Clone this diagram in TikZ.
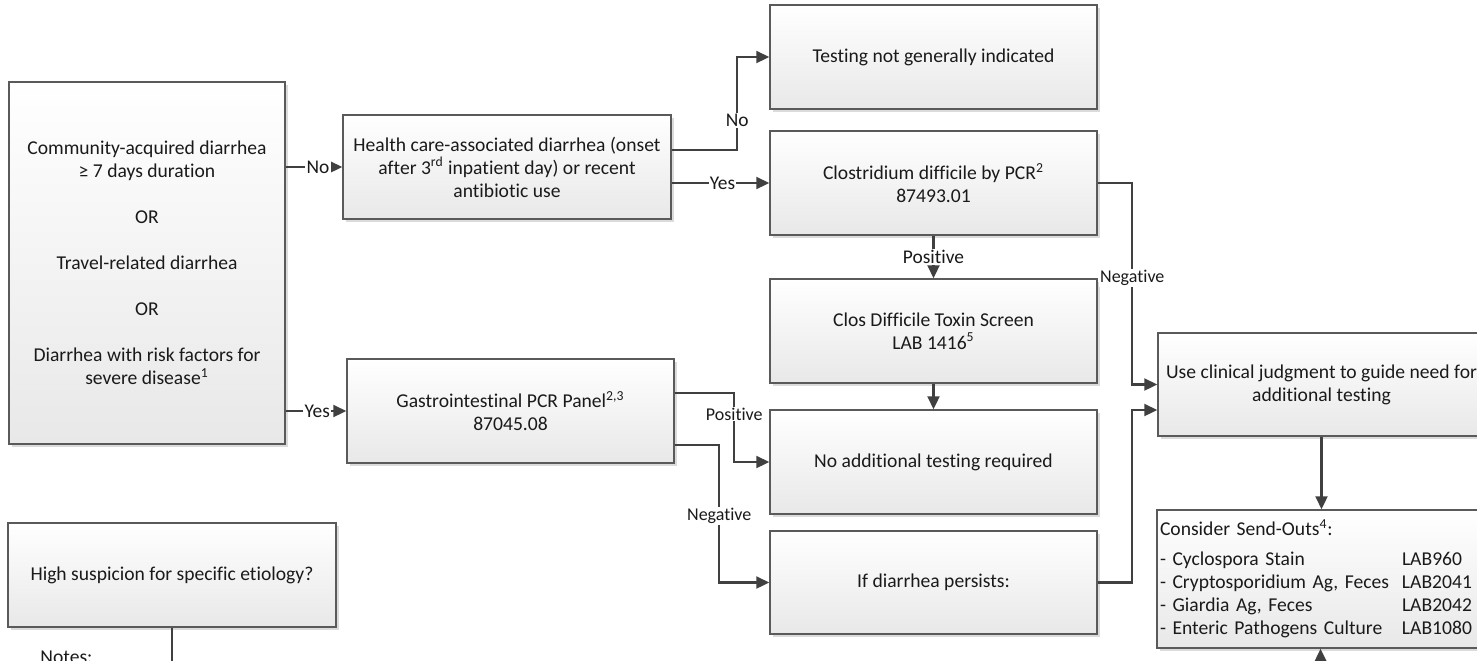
\documentclass[tikz,border=0pt]{standalone}
\usepackage{fontspec}
\setmainfont{Carlito}[Ligatures=NoCommon,RawFeature={-liga;-clig;-dlig}]
\usetikzlibrary{arrows.meta,shadows,calc}
\definecolor{linec}{HTML}{404040}
\definecolor{borderc}{HTML}{5A5A5A}
\definecolor{txtc}{HTML}{1A1A1A}
\begin{document}
\begin{tikzpicture}[x=0.5pt,y=-0.5pt,
  box/.style={draw=borderc, line width=0.75pt, top color=white, bottom color=black!9,
    drop shadow={shadow xshift=1.6pt,shadow yshift=-1.6pt,fill=black!14,opacity=1},
    text=txtc, font=\fontsize{9.8}{11.5}\selectfont, align=center, inner sep=0pt,
    minimum width=163.5pt, minimum height=52pt},
  conn/.style={draw=linec, line width=1.1pt},
  arr/.style={conn, -{Triangle[length=6.5pt,width=6pt]}},
  lbl/.style={fill=white, inner sep=0.6pt, text=txtc, font=\fontsize{9.7}{11}\selectfont},
  lbls/.style={lbl, font=\fontsize{9}{10}\selectfont}]
\useasboundingbox (0,0) rectangle (1477,660);
\fill[white] (0,0) rectangle (1477,660);
\clip (0,0) rectangle (1477,660);

\node[box, minimum width=138pt, minimum height=181pt] (A) at (147,263)
  {Community-acquired diarrhea\\ ≥ 7 days duration\\[11.5pt] OR\\[11.5pt] Travel-related diarrhea\\[11.5pt] OR\\[11.5pt] Diarrhea with risk factors for\\ severe disease\textsuperscript{1}};
\node[box, minimum width=164pt] (B) at (507,167)
  {Health care-associated diarrhea (onset\\ after 3\textsuperscript{rd} inpatient day) or recent\\ antibiotic use};
\node[box] (C) at (933.5,57) {Testing not generally indicated};
\node[box] (D) at (933.5,183) {Clostridium difficile by PCR\textsuperscript{2}\\87493.01};
\node[box] (E) at (933.5,331) {Clos Difficile Toxin Screen\\LAB 1416\textsuperscript{5}};
\node[box] (F) at (933.5,462) {No additional testing required};
\node[box, minimum height=51.5pt] (G) at (933.5,582.5) {If diarrhea persists:};
\node[box] (H) at (510.5,411) {Gastrointestinal PCR Panel\textsuperscript{2,3}\\87045.08};
\node[box, minimum height=51.5pt] (I) at (1321.5,384.5) {Use clinical judgment to guide need for\\additional testing};
\node[box, minimum height=69pt, align=left, text width=160.5pt, inner xsep=1.5pt] (J) at (1320.5,579)
  {Consider Send-Outs\textsuperscript{4}:\\[3.5pt]
   \makebox[121pt][l]{- Cyclospora Stain}LAB960\\
   \makebox[121pt][l]{- Cryptosporidium Ag, Feces}LAB2041\\
   \makebox[121pt][l]{- Giardia Ag, Feces}LAB2042\\
   \makebox[121pt][l]{- Enteric Pathogens Culture}LAB1080};
\node[box, minimum width=164pt] (K) at (172,575) {High suspicion for specific etiology?};
\node[anchor=base west, text=txtc, font=\fontsize{9.8}{11.5}\selectfont, inner sep=0pt] (notes) at (40,663.5) {Notes:};

\coordinate (jin) at (1321,720);
\coordinate (kout) at (172,720);

\draw[arr] (A.east |- B.west) -- node[lbl,pos=0.57]{No} (B.west);
\draw[arr] (A.east |- H.west) -- node[lbl,pos=0.52]{Yes} (H.west);
\draw[arr] ([yshift=8.5pt]B.east) -| node[lbl,pos=0.66]{No} ([xshift=-16pt]C.west) -- (C.west);
\draw[arr] (B.east |- D.west) -- node[lbl,pos=0.52]{Yes} (D.west);
\draw[arr] (D.south) -- node[lbl]{Positive} (E.north);
\draw[arr] (D.east) -| node[lbls,pos=0.735]{Negative} ([xshift=-12.5pt]I.west) -- (I.west);
\draw[arr] (E.south) -- (F.north);
\draw[arr] ([yshift=9pt]H.east) -| node[lbls,pos=0.652]{Positive} ([xshift=-17.5pt]F.west) -- (F.west);
\draw[arr] ([yshift=-17pt]H.east) -| node[lbls,pos=0.758]{Negative} ([xshift=-25pt]G.west) -- (G.west);
\draw[arr] (G.east) -| ([xshift=-12.5pt,yshift=-12.75pt]I.west) -- ([yshift=-12.75pt]I.west);
\draw[arr] (I.south) -- (I.south |- J.north);
\draw[arr] (jin) -- (J.south);
\draw[conn] (K.south) -- (kout);
\end{tikzpicture}
\end{document}
